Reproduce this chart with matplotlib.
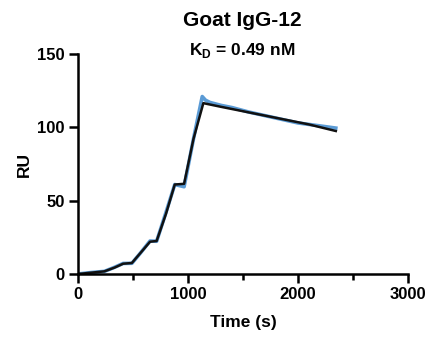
import numpy as np
import matplotlib.pyplot as plt

plt.rcParams['font.family'] = ['Liberation Sans', 'DejaVu Sans']
plt.rcParams['font.weight'] = 'bold'
plt.rcParams['mathtext.fontset'] = 'custom'
plt.rcParams['mathtext.rm'] = 'Liberation Sans:bold'
plt.rcParams['mathtext.bf'] = 'Liberation Sans:bold'

# Sensorgram (measured) - single cycle kinetics
t_data = [0, 120, 240, 330, 410, 490, 570, 655, 715, 800, 880, 965, 1050, 1130, 1160, 1200,
          1300, 1400, 1550, 1700, 1850, 2000, 2200, 2345]
ru_data = [0, 1.0, 1.8, 4.5, 7.2, 7.3, 14.5, 22.5, 22.3, 42, 61, 59.5, 92, 121, 118.5, 117,
           115, 113.5, 110.5, 108, 105.5, 103, 101, 99.5]

# 1:1 fit
t_fit = [0, 120, 240, 330, 410, 490, 570, 655, 715, 800, 880, 965, 1050, 1140, 1300,
         1500, 1700, 1900, 2100, 2345]
ru_fit = [0, 0.9, 1.8, 4.3, 7.0, 7.5, 14.5, 22.0, 22.5, 41, 61, 61.5, 92, 116.5, 114,
          111, 108, 105, 102, 97.5]

fig = plt.figure(figsize=(4.32, 3.41), dpi=100)
ax = fig.add_axes([0.1806, 0.1965, 0.7634, 0.6451])

ax.plot(t_data, ru_data, color='#5B9BD5', lw=2.6, solid_joinstyle='round')
ax.plot(t_fit, ru_fit, color='#111111', lw=1.8)

ax.set_xlim(0, 3000)
ax.set_ylim(0, 150)
ax.set_xticks([0, 1000, 2000, 3000])
ax.set_xticks([500, 1500, 2500], minor=True)
ax.set_yticks([0, 50, 100, 150])

for s in ['top', 'right']:
    ax.spines[s].set_visible(False)
for s in ['left', 'bottom']:
    ax.spines[s].set_linewidth(1.8)
ax.tick_params(axis='both', which='major', width=1.8, length=6.5, labelsize=12, pad=3)
ax.tick_params(axis='x', which='minor', width=1.8, length=4.5)
for lab in ax.get_xticklabels() + ax.get_yticklabels():
    lab.set_fontweight('bold')

ax.set_xlabel('Time (s)', fontsize=12.5, fontweight='bold', labelpad=9)
ax.set_ylabel('RU', fontsize=12.5, fontweight='bold', labelpad=4)

fig.text(0.561, 0.941, 'Goat IgG-12', ha='center', va='center', fontsize=15, fontweight='bold')
fig.text(0.561, 0.853, r'K$_{\mathbf{D}}$ = 0.49 nM', ha='center', va='center', fontsize=12.5,
         fontweight='bold')

fig.savefig('out.png', dpi=100)
